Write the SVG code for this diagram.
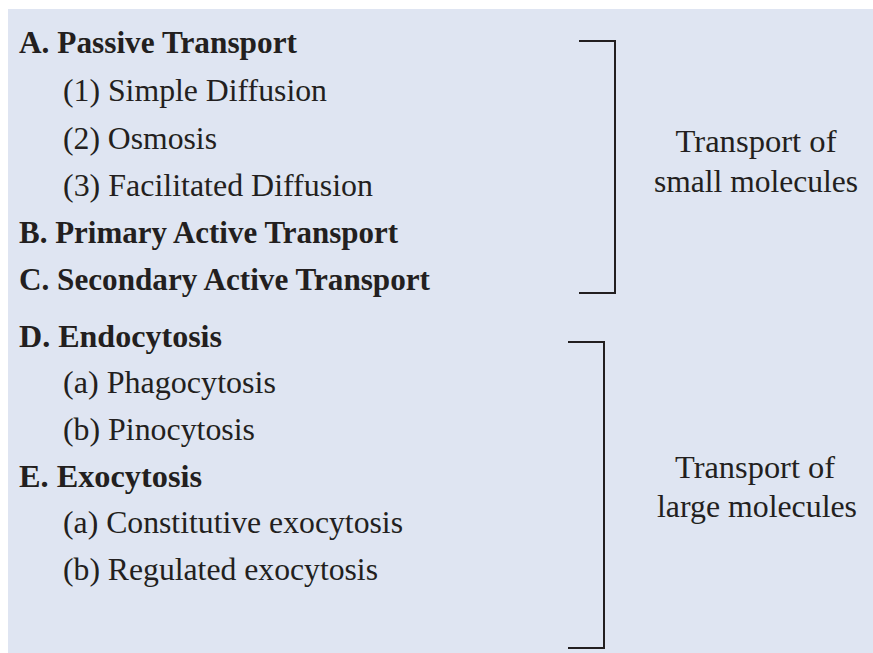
<svg xmlns="http://www.w3.org/2000/svg" width="873" height="653" viewBox="0 0 873 653">
<style>
text{font-family:"Liberation Serif","Times New Roman",serif;font-size:31px;fill:#231f20}
.b{font-weight:bold}
.r{text-anchor:middle;font-size:32px}
.br{fill:none;stroke:#231f20;stroke-width:2}
</style>
<rect x="0" y="0" width="873" height="653" fill="#ffffff"/>
<rect x="8" y="9" width="865" height="644" fill="#dfe5f2"/>
<g id="list-small">
<text class="b" x="19" y="53" textLength="278" lengthAdjust="spacingAndGlyphs">A. Passive Transport</text>
<text x="63" y="101" textLength="264" lengthAdjust="spacingAndGlyphs">(1) Simple Diffusion</text>
<text x="63" y="149" textLength="154" lengthAdjust="spacingAndGlyphs">(2) Osmosis</text>
<text x="63" y="196" textLength="310" lengthAdjust="spacingAndGlyphs">(3) Facilitated Diffusion</text>
<text class="b" x="19" y="243" textLength="379" lengthAdjust="spacingAndGlyphs">B. Primary Active Transport</text>
<text class="b" x="19" y="290" textLength="411" lengthAdjust="spacingAndGlyphs">C. Secondary Active Transport</text>
</g>
<g id="list-large">
<text class="b" x="19" y="347" textLength="203" lengthAdjust="spacingAndGlyphs">D. Endocytosis</text>
<text x="63" y="393" textLength="213" lengthAdjust="spacingAndGlyphs">(a) Phagocytosis</text>
<text x="63" y="440" textLength="192" lengthAdjust="spacingAndGlyphs">(b) Pinocytosis</text>
<text class="b" x="19" y="487" textLength="183" lengthAdjust="spacingAndGlyphs">E. Exocytosis</text>
<text x="63" y="533" textLength="340" lengthAdjust="spacingAndGlyphs">(a) Constitutive exocytosis</text>
<text x="63" y="580" textLength="315" lengthAdjust="spacingAndGlyphs">(b) Regulated exocytosis</text>
</g>
<g id="connectors">
<polyline class="br" points="579,41 615,41 615,293 579,293"/>
<polyline class="br" points="568,342 604,342 604,648 568,648"/>
</g>
<g id="label-small">
<text class="r" x="756" y="152" textLength="161" lengthAdjust="spacingAndGlyphs">Transport of</text>
<text class="r" x="756" y="192" textLength="204" lengthAdjust="spacingAndGlyphs">small molecules</text>
</g>
<g id="label-large">
<text class="r" x="755" y="478" textLength="160" lengthAdjust="spacingAndGlyphs">Transport of</text>
<text class="r" x="757" y="517" textLength="200" lengthAdjust="spacingAndGlyphs">large molecules</text>
</g>
</svg>
